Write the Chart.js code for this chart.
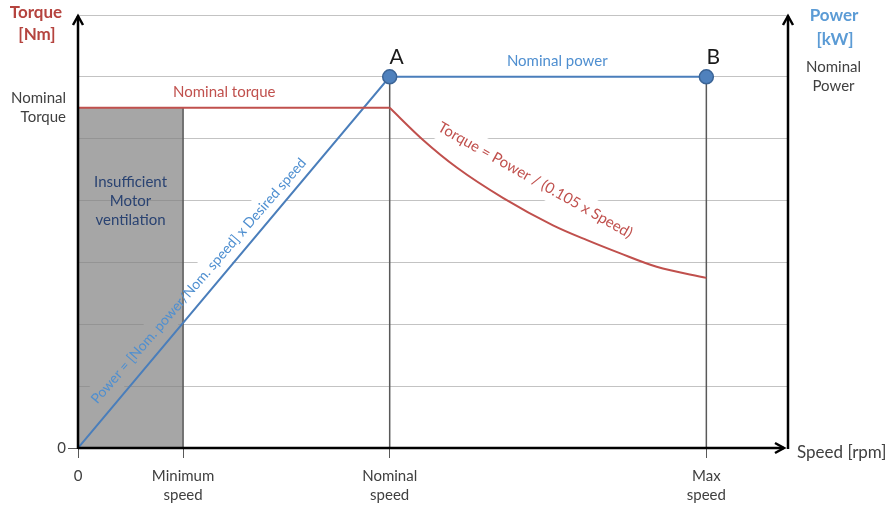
<!DOCTYPE html>
<html>
<head>
<meta charset="utf-8">
<script src="https://cdn.jsdelivr.net/npm/chart.js@4.4.1/dist/chart.umd.min.js"></script>
<style>
  body { margin: 0; background: #fff; }
  canvas { display: block; }
</style>
</head>
<body>
<canvas id="chart" width="893" height="509"></canvas>
<script>
// speeds and levels are only relative (the drawing has no real numbers)
const minSpeed = 14.8;
const nominalSpeed = 43.9;
const maxSpeed = 88.5;
const nominalTorque = 5.5;
const nominalPower = 6;

// tick labels
const speedTicks = [0, minSpeed, nominalSpeed, maxSpeed];
const speedLabels = ["0", ["Minimum", "speed"], ["Nominal", "speed"], ["Max", "speed"]];
const torqueTicks = [0, nominalTorque];
const torqueLabels = ["0", ["Nominal", "Torque"]];
const powerTicks = [nominalPower];
const powerLabels = [["Nominal", "Power"]];
const gridLevels = [1, 2, 3, 4, 5, 6, 7];

// power: rises up to A, then flat to B
const powerSpeed = [0, nominalSpeed, maxSpeed];
const powerValues = [0, nominalPower, nominalPower];

// torque: flat up to nominal speed ...
const flatSpeed = [0, nominalSpeed];
const flatTorque = [nominalTorque, nominalTorque];
// ... then falls off towards max speed
const fallSpeed = [43.9, 48.6, 53.4, 59.9, 66.9, 71.7, 76.3, 81.5, 88.5];
const fallTorque = [5.5, 4.98, 4.53, 4.04, 3.60, 3.36, 3.15, 2.93, 2.75];

const pts = (xs, ys) => xs.map((x, i) => ({ x: x, y: ys[i] }));
const font = "Lato";

const formulas = [
  { text: "Power = [Nom. power/Nom. speed] x Desired speed", x: 17, y: 2.7, angle: -49, size: 14, color: "#4f8fd0" },
  { text: "Torque = Power / (0.105 x Speed)", x: 64.4, y: 4.33, angle: 29.4, size: 15, color: "#c0504d" }
];

// fixed axis sizes so the plot area lands where the drawing has it
function fixSize(prop, size) {
  return s => {
    s[prop] = size;
    s.paddingTop = 0; s.paddingBottom = 0; s.paddingLeft = 0; s.paddingRight = 0;
  };
}

function chevron(ctx, x, y, dir) {
  ctx.beginPath();
  if (dir === "up") {
    ctx.moveTo(x - 5, y + 9); ctx.lineTo(x, y); ctx.lineTo(x + 5, y + 9);
  } else {
    ctx.moveTo(x - 9, y - 5); ctx.lineTo(x, y); ctx.lineTo(x - 9, y + 5);
  }
  ctx.stroke();
}

function label(ctx, text, x, y, style, color, align) {
  ctx.font = style;
  ctx.fillStyle = color;
  ctx.textAlign = align || "center";
  ctx.textBaseline = "middle";
  ctx.fillText(text, x, y);
}

const decorations = {
  id: "decorations",
  beforeDatasetsDraw(chart) {
    // white strips behind the formulas, they cut the grid lines
    const ctx = chart.ctx;
    const xs = chart.scales.x, ys = chart.scales.y;
    ctx.save();
    formulas.forEach(f => {
      ctx.font = f.size + "px " + font;
      const w = ctx.measureText(f.text).width + 14;
      ctx.save();
      ctx.translate(xs.getPixelForValue(f.x), ys.getPixelForValue(f.y));
      ctx.rotate(f.angle * Math.PI / 180);
      ctx.fillStyle = "#fff";
      ctx.fillRect(-w / 2, -13, w, 26);
      ctx.restore();
    });
    ctx.restore();
  },
  afterDatasetsDraw(chart) {
    const ctx = chart.ctx;
    const xs = chart.scales.x, ys = chart.scales.y;
    const { left, right, top, bottom } = chart.chartArea;
    ctx.save();

    // axes with arrow heads
    ctx.strokeStyle = "#000";
    ctx.lineWidth = 2.5;
    ctx.beginPath(); ctx.moveTo(left, bottom + 1); ctx.lineTo(left, top + 1); ctx.stroke();
    chevron(ctx, left, top + 1, "up");
    ctx.beginPath(); ctx.moveTo(right, bottom + 1); ctx.lineTo(right, top + 1); ctx.stroke();
    chevron(ctx, right, top + 1, "up");
    ctx.beginPath(); ctx.moveTo(left, bottom); ctx.lineTo(right - 4, bottom); ctx.stroke();
    chevron(ctx, right - 4, bottom, "right");

    // formulas along the curves
    formulas.forEach(f => {
      ctx.save();
      ctx.translate(xs.getPixelForValue(f.x), ys.getPixelForValue(f.y));
      ctx.rotate(f.angle * Math.PI / 180);
      label(ctx, f.text, 0, 0, f.size + "px " + font, f.color);
      ctx.restore();
    });

    const yT = ys.getPixelForValue(nominalTorque);
    const yP = ys.getPixelForValue(nominalPower);
    label(ctx, "Nominal torque", xs.getPixelForValue(20.6), yT - 16, "15px " + font, "#c0504d");
    label(ctx, "Nominal power", xs.getPixelForValue(67.5), yP - 16, "15px " + font, "#4f8fd0");
    label(ctx, "A", xs.getPixelForValue(nominalSpeed) + 7, yP - 20, "21px " + font, "#1a1a1a");
    label(ctx, "B", xs.getPixelForValue(maxSpeed) + 7, yP - 20, "21px " + font, "#1a1a1a");

    const bx = xs.getPixelForValue(minSpeed / 2);
    ["Insufficient", "Motor", "ventilation"].forEach((t, i) => {
      label(ctx, t, bx, 182 + i * 19, "15px " + font, "#2a4372");
    });

    // axis titles
    label(ctx, "Torque", 36, 13, "bold 17px " + font, "#b5443f");
    label(ctx, "[Nm]", 37, 35, "bold 17px " + font, "#b5443f");
    label(ctx, "Power", 834, 16, "bold 17px " + font, "#5b9bd5");
    label(ctx, "[kW]", 835, 40, "bold 17px " + font, "#5b9bd5");
    label(ctx, "Speed [rpm]", 797, bottom + 5, "17px " + font, "#404040", "left");
    ctx.restore();
  }
};

const tickFont = { family: font, size: 15, lineHeight: 1.3 };

new Chart(document.getElementById("chart"), {
  type: "line",
  data: {
    datasets: [
      {
        label: "Nominal torque",
        data: pts(flatSpeed, flatTorque),
        borderColor: "#c0504d",
        borderWidth: 2,
        pointRadius: 0,
        order: 0
      },
      {
        label: "Torque",
        data: pts(fallSpeed, fallTorque),
        borderColor: "#c0504d",
        borderWidth: 2,
        pointRadius: 0,
        cubicInterpolationMode: "monotone",
        order: 0
      },
      {
        label: "Power",
        data: pts(powerSpeed, powerValues),
        borderColor: "#4a7ebb",
        borderWidth: 2,
        pointRadius: [0, 7, 7],
        pointBackgroundColor: "#4f81bd",
        pointBorderColor: "#3b6496",
        pointBorderWidth: 1.5,
        order: 0
      },
      {
        label: "nominal speed",
        data: [{ x: nominalSpeed, y: 0 }, { x: nominalSpeed, y: nominalPower }],
        borderColor: "#595959",
        borderWidth: 1.5,
        pointRadius: 0,
        order: 5
      },
      {
        label: "max speed",
        data: [{ x: maxSpeed, y: 0 }, { x: maxSpeed, y: nominalPower }],
        borderColor: "#595959",
        borderWidth: 1.5,
        pointRadius: 0,
        order: 5
      },
      {
        label: "min speed",
        data: [{ x: minSpeed, y: 0 }, { x: minSpeed, y: nominalTorque }],
        borderColor: "#595959",
        borderWidth: 1.5,
        pointRadius: 0,
        order: 5
      },
      {
        label: "Insufficient ventilation",
        data: [{ x: 0, y: nominalTorque }, { x: minSpeed, y: nominalTorque }],
        borderWidth: 0,
        pointRadius: 0,
        fill: "origin",
        backgroundColor: "rgba(128, 128, 128, 0.7)",
        order: 10
      }
    ]
  },
  options: {
    responsive: false,
    animation: false,
    layout: { padding: { top: 15 } },
    plugins: {
      legend: { display: false },
      tooltip: { enabled: false }
    },
    scales: {
      x: {
        type: "linear",
        min: 0,
        max: 100,
        afterBuildTicks: s => { s.ticks = speedTicks.map(v => ({ value: v })); },
        afterFit: fixSize("height", 61),
        border: { display: false },
        grid: { drawOnChartArea: false, tickLength: 10, tickColor: "#595959" },
        ticks: {
          autoSkip: false,
          maxRotation: 0,
          padding: 8,
          color: "#404040",
          font: tickFont,
          callback: (v, i) => speedLabels[i]
        }
      },
      y: {
        type: "linear",
        min: 0,
        max: 7,
        afterBuildTicks: s => {
          const vals = [...new Set([0, ...gridLevels, ...torqueTicks])].sort((a, b) => a - b);
          s.ticks = vals.map(v => ({ value: v }));
        },
        afterFit: fixSize("width", 78),
        border: { display: false },
        grid: {
          color: c => gridLevels.includes(c.tick.value) ? "#c3c3c3" : "rgba(0,0,0,0)",
          tickColor: c => c.tick.value === 0 ? "#595959" : "rgba(0,0,0,0)",
          tickLength: 10
        },
        ticks: {
          autoSkip: false,
          padding: 2,
          color: "#404040",
          font: tickFont,
          callback: v => {
            const i = torqueTicks.indexOf(v);
            return i < 0 ? "" : torqueLabels[i];
          }
        }
      },
      y2: {
        type: "linear",
        position: "right",
        min: 0,
        max: 7,
        afterBuildTicks: s => { s.ticks = powerTicks.map(v => ({ value: v })); },
        afterFit: fixSize("width", 105),
        border: { display: false },
        grid: { display: false },
        ticks: {
          crossAlign: "center",
          padding: 10,
          color: "#404040",
          font: tickFont,
          callback: (v, i) => powerLabels[i]
        }
      }
    }
  },
  plugins: [decorations]
});
</script>
</body>
</html>
